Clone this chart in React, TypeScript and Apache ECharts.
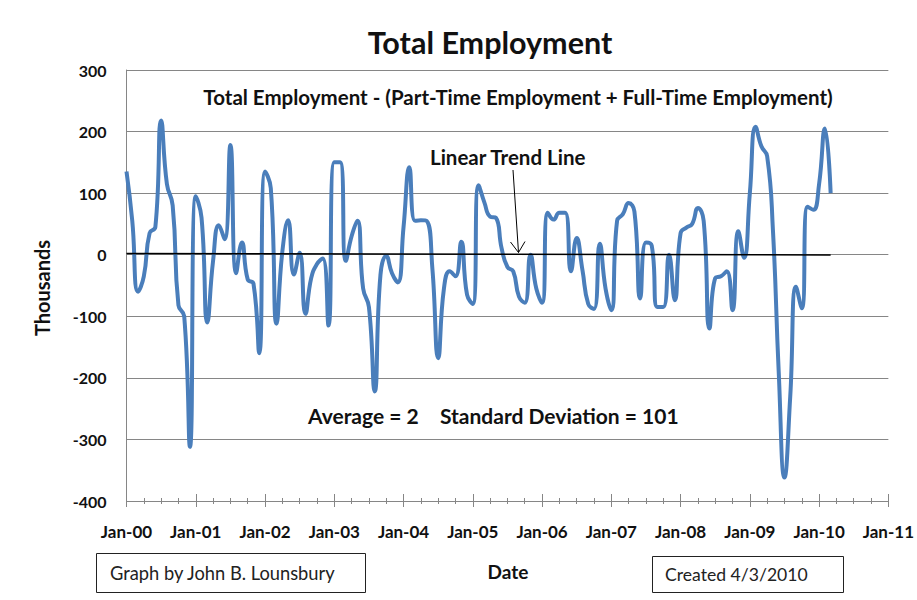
import React, { useEffect, useRef } from "react";
import * as echarts from "echarts";

// Monthly change in total employment (thousands), Jan-00 .. Mar-10
const startYear = 2000;
const values: number[] = [
  135, 55, -60, -35, 35, 45, 218, 115, 80, -82, -100, -312,
  95, 60, -110, -10, 48, 25, 178, -30, 20, -40, -47, -160,
  135, 108, -112, 5, 56, -32, 3, -96, -38, -15, -6, -115,
  150, 150, -10, 30, 55, -55, -85, -222, -33, -2, -30, -45,
  45, 142, 55, 56, 55, -23, -168, -55, -27, -35, 21, -65,
  -80, 113, 85, 62, 60, 10, -20, -27, -68, -78, 0, -55,
  -78, 68, 57, 68, 68, -27, 27, -25, -80, -88, 18, -55,
  -90, 55, 66, 84, 70, -71, 20, 15, -85, -85, 0, -74,
  35, 44, 50, 76, 55, -120, -38, -35, -27, -90, 38, -5,
  100, 208, 176, 160, 40, -190, -362, -230, -52, -87, 78, 73,
  115, 205, 100,
];
const xTickLabels = [
  "Jan-00", "Jan-01", "Jan-02", "Jan-03", "Jan-04", "Jan-05",
  "Jan-06", "Jan-07", "Jan-08", "Jan-09", "Jan-10", "Jan-11",
];
const yMin = -400;
const yMax = 300;
const yStep = 100;

const FONT = "Lato, 'Open Sans', 'DejaVu Sans', sans-serif";
const AXIS_GRAY = "#868686";

export default function App() {
  const ref = useRef<HTMLDivElement>(null);

  useEffect(() => {
    if (!ref.current) return;
    const chart = echarts.init(ref.current, null, { renderer: "svg" });

    const series = values.map((v, i) => [i, v]);
    const n = values.length;
    let sx = 0, sy = 0, sxx = 0, sxy = 0;
    values.forEach((v, i) => {
      sx += i; sy += v; sxx += i * i; sxy += i * v;
    });
    const b = (n * sxy - sx * sy) / (n * sxx - sx * sx);
    const a = (sy - b * sx) / n;
    const trend = [[0, a], [n - 1, a + b * (n - 1)]];

    const xMax = (xTickLabels.length - 1) * 12;

    const baseX = {
      type: "value",
      min: 0,
      max: xMax,
      interval: 12,
      position: "bottom",
      splitLine: { show: false },
    };

    chart.setOption({
      animation: false,
      backgroundColor: "#ffffff",
      grid: { left: 126.5, top: 70, width: 762.5, height: 431 },
      xAxis: [
        {
          ...baseX,
          axisLine: { show: true, onZero: false, lineStyle: { color: AXIS_GRAY, width: 1 } },
          axisTick: { show: true, inside: false, length: 6, lineStyle: { color: AXIS_GRAY } },
          minorTick: { show: true, splitNumber: 4, length: 3, lineStyle: { color: AXIS_GRAY } },
          axisLabel: {
            formatter: (v: number) => xTickLabels[Math.round(v / 12)] ?? "",
            color: "#111",
            fontFamily: FONT,
            fontWeight: "bold",
            fontSize: 17,
            margin: 22,
          },
        },
        {
          ...baseX,
          axisLine: { show: false, onZero: false },
          axisTick: { show: true, inside: true, length: 7, lineStyle: { color: AXIS_GRAY } },
          minorTick: { show: true, splitNumber: 4, length: 3, lineStyle: { color: AXIS_GRAY } },
          axisLabel: { show: false },
        },
      ],
      yAxis: {
        type: "value",
        min: yMin,
        max: yMax,
        interval: yStep,
        axisLine: { show: true, onZero: false, lineStyle: { color: AXIS_GRAY, width: 1 } },
        axisTick: { show: false },
        splitLine: { show: true, lineStyle: { color: AXIS_GRAY, width: 1 } },
        axisLabel: {
          color: "#111",
          fontFamily: FONT,
          fontWeight: "bold",
          fontSize: 16,
          margin: 20,
        },
      },
      series: [
        {
          type: "line",
          data: series,
          smooth: true,
          showSymbol: false,
          lineStyle: { color: "#4a7ebb", width: 4 },
          z: 3,
        },
        {
          type: "line",
          data: trend,
          showSymbol: false,
          lineStyle: { color: "#000", width: 1.5 },
          z: 4,
        },
      ],
      graphic: [
        {
          type: "text", x: 490, y: 42,
          style: { text: "Total Employment", fontFamily: FONT, fontWeight: "bold", fontSize: 30.5, fill: "#111", textAlign: "center", textVerticalAlign: "middle" },
        },
        {
          type: "text", x: 518, y: 97,
          style: { text: "Total Employment - (Part-Time Employment + Full-Time Employment)", fontFamily: FONT, fontWeight: "bold", fontSize: 20.5, fill: "#111", textAlign: "center", textVerticalAlign: "middle" },
        },
        {
          type: "text", x: 430, y: 157,
          style: { text: "Linear Trend Line", fontFamily: FONT, fontWeight: "bold", fontSize: 20.5, fill: "#111", textAlign: "left", textVerticalAlign: "middle" },
        },
        {
          type: "line",
          shape: { x1: 513, y1: 170, x2: 518.5, y2: 252.5 },
          style: { stroke: "#000", lineWidth: 1 },
          z: 10,
        },
        {
          type: "polyline",
          shape: { points: [[510.5, 242], [518.5, 252.5], [525, 241.5]] },
          style: { stroke: "#000", lineWidth: 1, fill: "none" },
          z: 10,
        },
        {
          type: "text", x: 308, y: 415,
          style: { text: "Average = 2", fontFamily: FONT, fontWeight: "bold", fontSize: 21, fill: "#111", textAlign: "left", textVerticalAlign: "middle" },
        },
        {
          type: "text", x: 440, y: 415,
          style: { text: "Standard Deviation = 101", fontFamily: FONT, fontWeight: "bold", fontSize: 21, fill: "#111", textAlign: "left", textVerticalAlign: "middle" },
        },
        {
          type: "text", x: 42, y: 288, rotation: Math.PI / 2,
          style: { text: "Thousands", fontFamily: FONT, fontWeight: "bold", fontSize: 20, fill: "#111", textAlign: "center", textVerticalAlign: "middle" },
        },
        {
          type: "text", x: 508, y: 571,
          style: { text: "Date", fontFamily: FONT, fontWeight: "bold", fontSize: 19, fill: "#111", textAlign: "center", textVerticalAlign: "middle" },
        },
        {
          type: "rect",
          shape: { x: 96.5, y: 553.5, width: 269, height: 39 },
          style: { stroke: "#222", lineWidth: 1, fill: "#fff" },
        },
        {
          type: "text", x: 110, y: 573,
          style: { text: "Graph by John B. Lounsbury", fontFamily: FONT, fontSize: 18.3, fill: "#222", textAlign: "left", textVerticalAlign: "middle" },
          z: 5,
        },
        {
          type: "rect",
          shape: { x: 652.5, y: 556.5, width: 191, height: 36 },
          style: { stroke: "#222", lineWidth: 1, fill: "#fff" },
        },
        {
          type: "text", x: 665, y: 574,
          style: { text: "Created 4/3/2010", fontFamily: FONT, fontSize: 17.6, fill: "#222", textAlign: "left", textVerticalAlign: "middle" },
          z: 5,
        },
      ],
    });

    return () => chart.dispose();
  }, []);

  return (
    <div
      ref={ref}
      style={{ position: "fixed", left: 0, top: 0, width: 917, height: 600, background: "#fff" }}
    />
  );
}
